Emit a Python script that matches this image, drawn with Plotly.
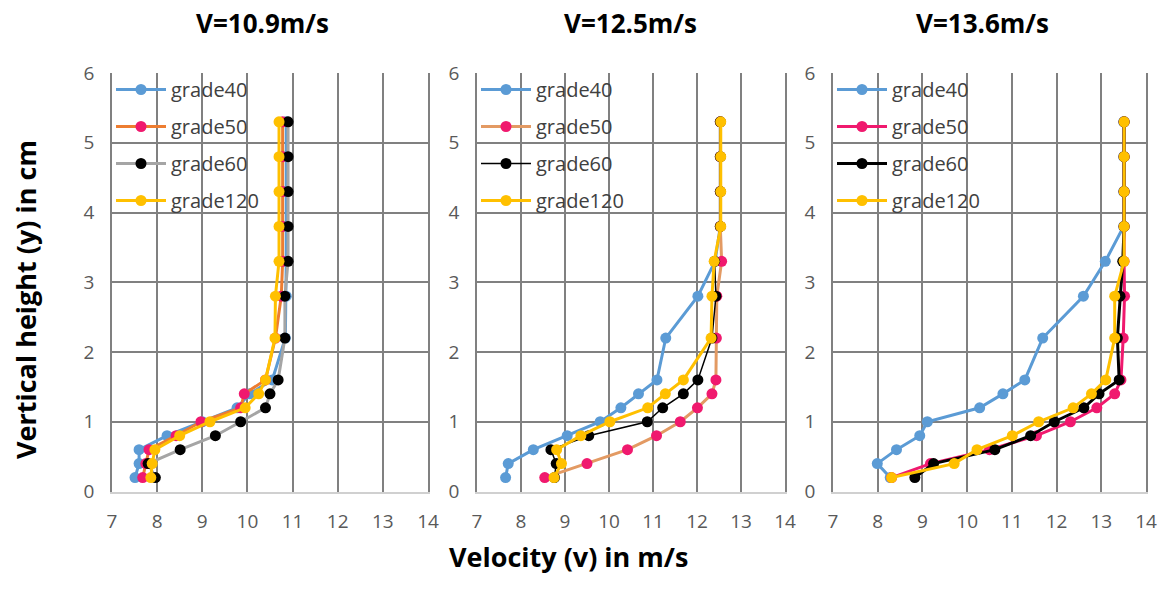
import plotly.graph_objects as go

# ---------------- data ----------------
heights = [0.2, 0.4, 0.6, 0.8, 1.0, 1.2, 1.4, 1.6, 2.2, 2.8, 3.3, 3.8, 4.3, 4.8, 5.3]
grades = ["grade40", "grade50", "grade60", "grade120"]
panel_titles = ["V=10.9m/s", "V=12.5m/s", "V=13.6m/s"]
x_ticks = [7, 8, 9, 10, 11, 12, 13, 14]
y_ticks = [0, 1, 2, 3, 4, 5, 6]

# Panel 1: V = 10.9 m/s
p1_g40 = [7.51, 7.60, 7.60, 8.22, 9.00, 9.77, 10.05, 10.55, 10.84, 10.86, 10.86, 10.86, 10.86, 10.86, 10.86]
p1_g50 = [7.68, 7.75, 7.82, 8.42, 8.97, 9.85, 9.93, 10.40, 10.62, 10.75, 10.78, 10.78, 10.78, 10.78, 10.78]
p1_g60 = [7.96, 7.80, 8.51, 9.29, 9.85, 10.40, 10.50, 10.68, 10.83, 10.83, 10.90, 10.90, 10.90, 10.90, 10.90]
p1_g120 = [7.86, 7.89, 7.95, 8.50, 9.17, 9.95, 10.25, 10.40, 10.61, 10.62, 10.70, 10.70, 10.70, 10.70, 10.70]

# Panel 2: V = 12.5 m/s
p2_g40 = [7.65, 7.71, 8.28, 9.05, 9.80, 10.27, 10.67, 11.09, 11.29, 12.02, 12.41, 12.53, 12.53, 12.53, 12.53]
p2_g50 = [8.54, 9.50, 10.42, 11.08, 11.62, 12.01, 12.34, 12.43, 12.44, 12.45, 12.56, 12.53, 12.53, 12.53, 12.53]
p2_g60 = [8.76, 8.80, 8.68, 9.54, 10.87, 11.22, 11.69, 12.02, 12.34, 12.43, 12.40, 12.53, 12.53, 12.53, 12.53]
p2_g120 = [8.75, 8.92, 8.81, 9.36, 10.02, 10.88, 11.28, 11.69, 12.32, 12.34, 12.39, 12.54, 12.54, 12.54, 12.54]

# Panel 3: V = 13.6 m/s
p3_g40 = [8.28, 7.99, 8.42, 8.94, 9.11, 10.28, 10.80, 11.29, 11.69, 12.60, 13.09, 13.50, 13.50, 13.50, 13.50]
p3_g50 = [8.31, 9.18, 10.50, 11.55, 12.31, 12.90, 13.30, 13.44, 13.49, 13.52, 13.51, 13.51, 13.51, 13.51, 13.51]
p3_g60 = [8.83, 9.25, 10.62, 11.42, 11.95, 12.61, 12.95, 13.40, 13.36, 13.42, 13.48, 13.51, 13.51, 13.51, 13.51]
p3_g120 = [8.31, 9.71, 10.22, 11.01, 11.60, 12.37, 12.78, 13.10, 13.30, 13.30, 13.51, 13.51, 13.51, 13.51, 13.51]

panels = [
    [p1_g40, p1_g50, p1_g60, p1_g120],
    [p2_g40, p2_g50, p2_g60, p2_g120],
    [p3_g40, p3_g50, p3_g60, p3_g120],
]

# ---------------- styles ----------------
BLUE, PINK, YELLOW = "#5B9BD5", "#F0196E", "#FFC000"
marker_colors = [BLUE, PINK, "#000000", YELLOW]
line_styles = [
    [(BLUE, 3), ("#ED7D31", 3), ("#A5A5A5", 3), (YELLOW, 3)],
    [(BLUE, 3), ("#E39A63", 3), ("#000000", 1.5), (YELLOW, 3)],
    [(BLUE, 3), (PINK, 3), ("#000000", 3), (YELLOW, 3)],
]

W, H = 1163, 599
dom_px = [(112, 428), (477, 785), (833, 1146)]
top_px, bot_px = 73, 491.5
ydom = [1 - bot_px / H, 1 - top_px / H]

TICKFONT = dict(family="Open Sans", size=19, color="#595959")
LEGFONT = dict(family="Open Sans", size=20, color="#404040")
GRID = "#808080"

fig = go.Figure()
layout = dict(
    width=W, height=H,
    margin=dict(l=0, r=0, t=0, b=0, autoexpand=False),
    paper_bgcolor="white", plot_bgcolor="white",
    showlegend=True,
    annotations=[],
)

for p in range(3):
    xa = "x" if p == 0 else f"x{p+1}"
    ya = "y" if p == 0 else f"y{p+1}"
    leg = "legend" if p == 0 else f"legend{p+1}"
    for g in range(4):
        lc, lw = line_styles[p][g]
        fig.add_trace(go.Scatter(
            x=panels[p][g], y=heights, mode="lines+markers",
            name=grades[g], xaxis=xa, yaxis=ya, legend=leg,
            legendgroup=f"p{p}g{g}",
            line=dict(color=lc, width=lw),
            marker=dict(color=marker_colors[g], size=11),
        ))
    x0, x1 = dom_px[p]
    layout["xaxis" if p == 0 else f"xaxis{p+1}"] = dict(
        domain=[x0 / W, x1 / W], anchor=ya, range=[7, 14],
        tickvals=x_ticks, showgrid=True, gridcolor=GRID, gridwidth=1.5,
        zeroline=False, showline=True, linecolor="#D0D0D0", linewidth=1.5,
        ticks="", tickfont=TICKFONT, ticklabelstandoff=12, fixedrange=True,
    )
    layout["yaxis" if p == 0 else f"yaxis{p+1}"] = dict(
        domain=ydom, anchor=xa, range=[0, 6],
        tickvals=y_ticks, showgrid=True, gridcolor=GRID, gridwidth=1.5,
        zeroline=False, showline=True, mirror=True, linecolor=GRID, linewidth=1.5,
        ticks="", tickfont=TICKFONT, ticklabelstandoff=12, fixedrange=True,
    )
    layout[leg] = dict(
        x=(x0 - 1) / W, y=1 - 70 / H, xanchor="left", yanchor="top",
        bgcolor="rgba(0,0,0,0)", borderwidth=0, font=LEGFONT,
        tracegroupgap=8, itemwidth=50,
    )
    layout["annotations"].append(dict(
        text=f"<b>{panel_titles[p]}</b>", x=[262, 630, 982][p] / W, y=1 - 23 / H,
        xref="paper", yref="paper", showarrow=False, xanchor="center", yanchor="middle",
        font=dict(family="Open Sans", size=26, color="#000000"),
    ))

layout["annotations"].append(dict(
    text="<b>Velocity (v) in m/s</b>", x=568 / W, y=1 - 556 / H, xref="paper", yref="paper",
    showarrow=False, xanchor="center", yanchor="middle",
    font=dict(family="Open Sans", size=27, color="#000000"),
))
layout["annotations"].append(dict(
    text="<b>Vertical height (y) in cm</b>", x=25 / W, y=1 - 300 / H, xref="paper", yref="paper",
    showarrow=False, xanchor="center", yanchor="middle", textangle=-90,
    font=dict(family="Open Sans", size=27, color="#000000"),
))

fig.update_layout(**layout)
fig.write_html("out.html")
